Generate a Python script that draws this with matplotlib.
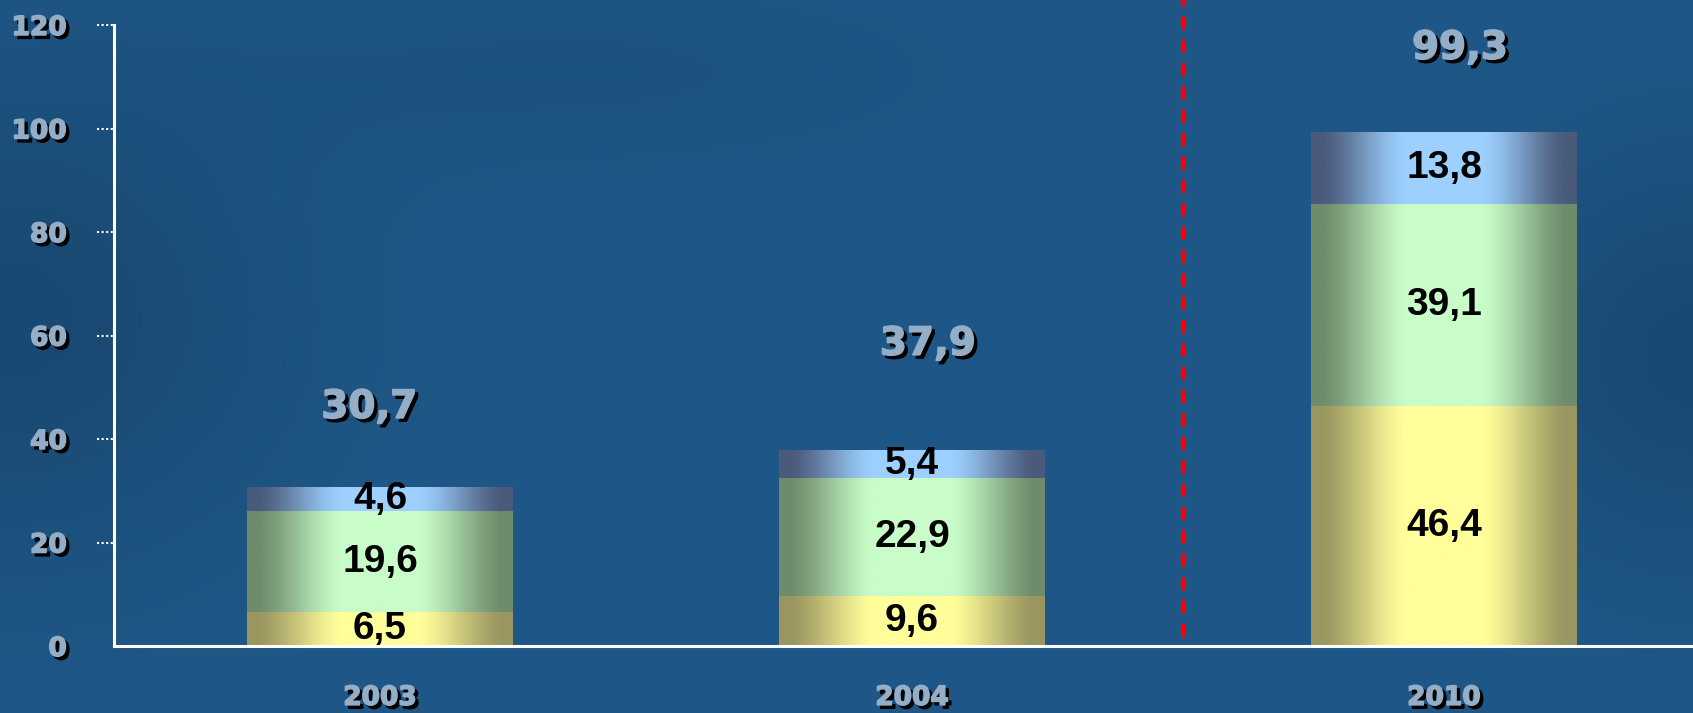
import matplotlib
matplotlib.use('Agg')
import matplotlib.pyplot as plt
import matplotlib.patheffects as pe
import matplotlib.transforms as mtransforms
import numpy as np

# data
years = ['2003', '2004', '2010']
seg_bottom = [6.5, 9.6, 46.4]    # yellow
seg_middle = [19.6, 22.9, 39.1]  # green
seg_top = [4.6, 5.4, 13.8]       # blue
totals = [30.7, 37.9, 99.3]
y_ticks = [0, 20, 40, 60, 80, 100, 120]

# style
total_gap = [15.5, 20.5, 16.3]
total_shift = [-0.02, 0.03, 0.03]
seg_colors = [('#9a9660', '#fffe9a'), ('#6e8c6c', '#c8fcc8'), ('#4a5a7a', '#9dd0ff')]
label_col = '#93aec6'
off = (2.4, -2.4)
shadow = [pe.Stroke(offset=off, linewidth=1.1, foreground='black'),
          pe.SimplePatchShadow(offset=off, shadow_rgbFace='black', alpha=1.0),
          pe.Stroke(linewidth=1.1, foreground=label_col), pe.Normal()]


def fmt(v):
    return ('%.1f' % v).replace('.', ',')


def hex2rgb(h):
    return np.array([int(h[i:i + 2], 16) for i in (1, 3, 5)]) / 255.0


W, H = 1693, 713
fig = plt.figure(figsize=(W / 100, H / 100), dpi=100)

# background: dark blue with soft darker patches
bg = fig.add_axes([0, 0, 1, 1], zorder=-5)
yy, xx = np.mgrid[0:1:200j, 0:1:400j]
base = hex2rgb('#1f5888')
dark = hex2rgb('#153d60')
w = 0.55 * np.exp(-(((xx - 0.0) / 0.18) ** 2 + ((yy - 0.45) / 0.35) ** 2))
w += 0.55 * np.exp(-(((xx - 1.0) / 0.12) ** 2 + ((yy - 0.5) / 0.3) ** 2))
w += 0.2 * np.exp(-(((xx - 0.35) / 0.25) ** 2 + ((yy - 0.1) / 0.15) ** 2))
w = np.clip(w, 0, 1)[..., None]
bg.imshow(base * (1 - w) + dark * w, extent=[0, 1, 0, 1], aspect='auto', interpolation='bilinear')
bg.set_axis_off()

x0, x1 = 114 / W, 1.0
y0, y1 = (H - 646) / H, (H - 25) / H
ax = fig.add_axes([x0, y0, x1 - x0, y1 - y0])
ax.patch.set_alpha(0)

x = np.arange(len(years))
width = 0.5

# horizontal shading profile across a bar
t = np.linspace(0, 1, 200)
d = np.abs(t - 0.5)
f = np.clip((0.46 - d) / (0.46 - 0.15), 0, 1)
f = 0.5 * f + 0.5 * f * f * (3 - 2 * f)

bottoms = np.zeros(len(years))
for vals, (c_edge, c_mid) in zip([seg_bottom, seg_middle, seg_top], seg_colors):
    bars = ax.bar(x, vals, width, bottom=bottoms, color='none', edgecolor='none')
    e, m = hex2rgb(c_edge), hex2rgb(c_mid)
    grad = (e[None, :] * (1 - f[:, None]) + m[None, :] * f[:, None])[None, :, :]
    for b, v, yb in zip(bars, vals, bottoms):
        bx = b.get_x()
        ax.imshow(grad, extent=[bx, bx + b.get_width(), yb, yb + v], aspect='auto',
                  interpolation='bilinear', clip_path=b, zorder=2)
        ax.text(b.get_x() + b.get_width() / 2, yb + v / 2, fmt(v), ha='center', va='center',
                fontsize=28, fontweight='bold', family='Liberation Sans', color='black', zorder=4)
    bottoms = bottoms + np.array(vals)

for xi, tot, g, s in zip(x, totals, total_gap, total_shift):
    ax.text(xi + s, tot + g, fmt(tot), ha='center', va='center', fontsize=28, fontweight='bold',
            color=label_col, path_effects=shadow, zorder=4)

ax.set_xlim(-0.5, -0.5 + (W - 114) / 532)
ax.set_ylim(0, 120)

# red dashed separator
ax.axvline(1.509, ymin=0.015, ymax=646 / 621, color='#ff0000', lw=2.9,
           dashes=(3.3, 2.5), clip_on=False, zorder=3)

for s in ['top', 'right']:
    ax.spines[s].set_visible(False)
for s in ['left', 'bottom']:
    ax.spines[s].set_color('white')
    ax.spines[s].set_linewidth(2.2)
    ax.spines[s].set_zorder(5)

ax.set_yticks(y_ticks)
ax.set_yticklabels([str(v) for v in y_ticks])
ax.set_xticks(x)
ax.set_xticklabels(years)
ax.tick_params(axis='y', length=0, pad=34, labelsize=19, labelcolor=label_col)
ax.tick_params(axis='x', length=0, pad=28, labelsize=19, labelcolor=label_col)
for lbl in ax.get_yticklabels() + ax.get_xticklabels():
    lbl.set_fontweight('bold')
    lbl.set_path_effects(shadow)

# dotted tick marks left of the axis
trans = mtransforms.blended_transform_factory(ax.transAxes, ax.transData)
for v in y_ticks[1:]:
    ax.plot([-17 / (W - 114), 0], [v, v], transform=trans, color='white', lw=1.5,
            ls=(0, (1, 1.2)), clip_on=False)

fig.savefig('out.png', dpi=100)
